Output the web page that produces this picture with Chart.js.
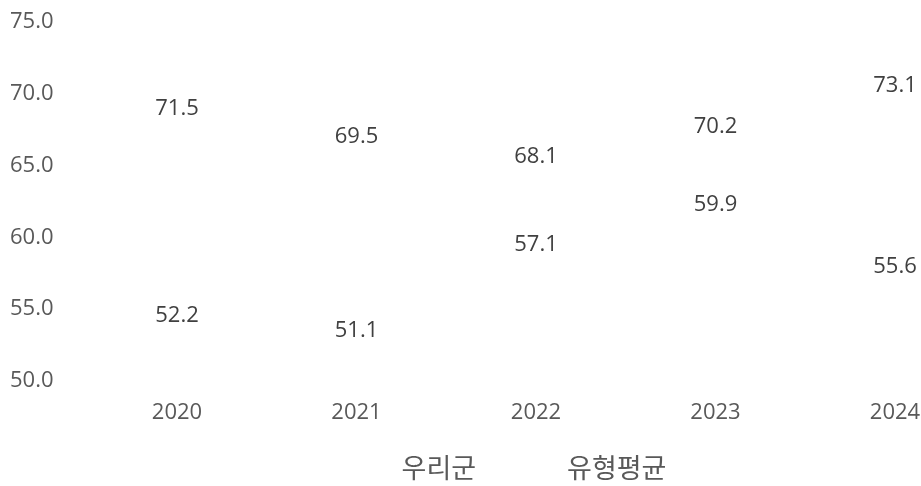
<!DOCTYPE html>
<html><head><meta charset="utf-8">
<script src="https://cdn.jsdelivr.net/npm/chart.js@4.4.1/dist/chart.umd.min.js"></script>
<style>html,body{margin:0;padding:0;background:#fff}#wrap{width:921px;height:486px;position:relative}</style>
</head><body><div id="wrap"><canvas id="c"></canvas></div>
<script>
const categories = ['2020', '2021', '2022', '2023', '2024'];
const seriesNames = ['우리군', '유형평균'];
const ourCounty = [71.5, 69.5, 68.1, 70.2, 73.1];
const typeAverage = [52.2, 51.1, 57.1, 59.9, 55.6];
const yTickValues = [50, 55, 60, 65, 70, 75];

const NUM_FONT = '"Open Sans", "Noto Sans CJK KR", sans-serif';
const KR_FONT = '"Noto Sans CJK KR", sans-serif';

const valueLabels = {
  id: 'valueLabels',
  afterDatasetsDraw(chart) {
    const ctx = chart.ctx;
    ctx.save();
    ctx.font = '22px ' + NUM_FONT;
    ctx.fillStyle = '#404040';
    ctx.textAlign = 'center';
    ctx.textBaseline = 'middle';
    chart.data.datasets.forEach((ds, i) => {
      const meta = chart.getDatasetMeta(i);
      meta.data.forEach((pt, j) => {
        ctx.fillText(ds.data[j].toFixed(1), pt.x, pt.y + ds.labelOffset);
      });
    });
    ctx.restore();
  }
};

new Chart(document.getElementById('c'), {
  type: 'line',
  data: {
    labels: categories,
    datasets: [
      { label: seriesNames[0], data: ourCounty, labelOffset: 36,
        borderColor: 'rgba(0,0,0,0)', backgroundColor: 'rgba(0,0,0,0)', pointRadius: 0, borderWidth: 0 },
      { label: seriesNames[1], data: typeAverage, labelOffset: -34,
        borderColor: 'rgba(0,0,0,0)', backgroundColor: 'rgba(0,0,0,0)', pointRadius: 0, borderWidth: 0 }
    ]
  },
  options: {
    responsive: true,
    maintainAspectRatio: false,
    animation: false,
    events: [],
    layout: { padding: { left: 76, right: 10, top: 22, bottom: 0 } },
    scales: {
      x: {
        offset: false,
        grid: { display: false, drawTicks: true, tickLength: 19 },
        border: { display: false },
        ticks: { color: '#595959', font: { size: 22, family: NUM_FONT }, padding: 0, maxRotation: 0, autoSkip: false },
        afterFit: s => { s.height = 63.5; }
      },
      y: {
        min: 50, max: 75,
        grid: { display: false, drawTicks: false },
        border: { display: false },
        ticks: { color: '#595959', font: { size: 22, family: NUM_FONT }, mirror: true, padding: -167, crossAlign: 'near',
                 callback: v => Number(v).toFixed(1) },
        afterBuildTicks: s => { s.ticks = yTickValues.map(v => ({ value: v })); },
        afterFit: s => { s.width = 101; }
      },
      y2: {
        position: 'right',
        grid: { display: false, drawTicks: false },
        border: { display: false },
        ticks: { display: false },
        afterFit: s => { s.width = 16; }
      }
    },
    plugins: {
      legend: {
        position: 'bottom',
        maxHeight: 41.5,
        labels: { color: '#595959', font: { size: 27, family: KR_FONT }, boxWidth: 67.5, padding: 10 }
      },
      tooltip: { enabled: false }
    }
  },
  plugins: [valueLabels]
});
</script>
</body></html>
